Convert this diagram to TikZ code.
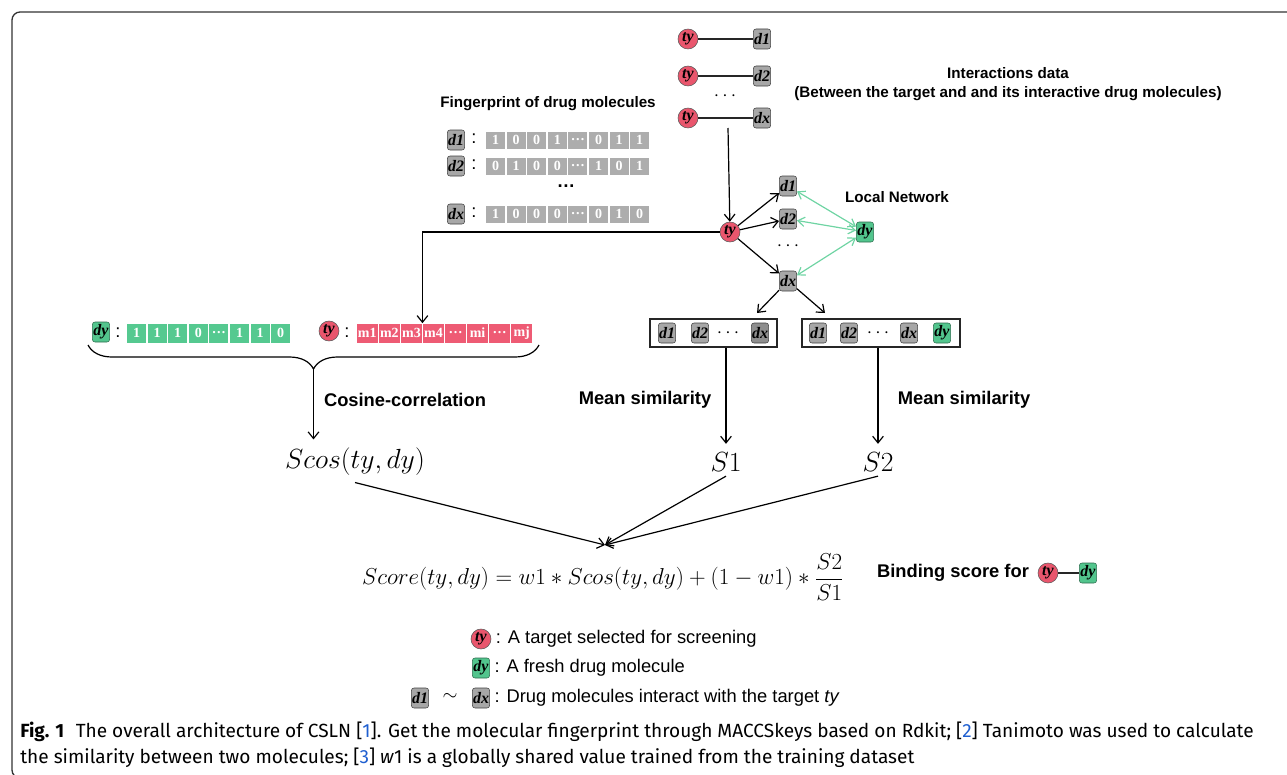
\documentclass[tikz,border=0pt]{standalone}
\usepackage{fontspec}
\setmainfont{Liberation Sans}
\newfontfamily\timesfont{Liberation Serif}
\newfontfamily\capfont{Fira Sans}
\usepackage{xcolor}
\definecolor{tyred}{HTML}{E9566D}
\definecolor{freshgreen}{HTML}{52C58D}
\definecolor{druggray}{HTML}{A7A7A7}
\definecolor{darkgray}{HTML}{8E8E8E}
\definecolor{cellgray}{HTML}{ADADAD}
\definecolor{bitgreen}{HTML}{55C990}
\definecolor{bitred}{HTML}{EE5B74}
\definecolor{netgreen}{HTML}{6FD4A3}
\definecolor{capblue}{HTML}{1F5FD0}
\usepackage{tikz}
\usetikzlibrary{arrows.meta,positioning,decorations.pathreplacing,calc}

\begin{document}
\begin{tikzpicture}[
  x=0.75pt,y=-0.75pt,
  font=\fontsize{13.75}{16}\selectfont,
  tgt/.style={circle,draw=black!65,fill=tyred,minimum size=15pt,inner sep=0pt,
    font=\timesfont\bfseries\itshape\fontsize{12}{13}\selectfont},
  drug/.style={rectangle,rounded corners=2pt,draw=black!75,fill=druggray,
    minimum width=13pt,minimum height=15pt,inner sep=0.5pt,
    font=\timesfont\bfseries\itshape\fontsize{12}{13}\selectfont},
  fresh/.style={drug,fill=freshgreen,draw=freshgreen!55!black},
  bitg/.style={fill=cellgray,minimum width=14.25pt,minimum height=12.75pt,
    inner sep=0pt,text=white,font=\timesfont\bfseries\fontsize{10.5}{11}\selectfont},
  bitgr/.style={bitg,fill=bitgreen,minimum height=14.25pt},
  bitr/.style={bitg,fill=bitred,minimum width=15.4pt,minimum height=14.25pt},
  setbox/.style={draw=black!85,line width=1.1pt,minimum height=21pt,inner sep=0pt},
  lbl/.style={font=\bfseries\fontsize{11.4}{14.25}\selectfont,align=center},
  midlbl/.style={font=\bfseries\fontsize{13.75}{16}\selectfont},
  arr/.style={-{Straight Barb[length=5pt,width=8pt]},line width=0.9pt},
  link/.style={line width=1.1pt,black!85},
  garr/.style={{Straight Barb[length=5pt,width=7pt]}-{Straight Barb[length=5pt,width=7pt]},
    netgreen,line width=0.9pt}
]
  \useasboundingbox (0,0) rectangle (1287,774);
  % Frame
  \draw[black!80,line width=1pt,rounded corners=6pt] (12,12) rectangle (1310,778);
  % Interactions data
  \node[tgt]  (tyI1) at (688,39)  {ty};
  \node[drug] (dI1)  at (762,39)  {d1};
  \node[tgt]  (tyI2) at (688,76)  {ty};
  \node[drug] (dI2)  at (762,76)  {d2};
  \node       (dotI) at (725,96)  {$\cdots$};
  \node[tgt]  (tyI3) at (688,118) {ty};
  \node[drug] (dIx)  at (762,118) {dx};
  \draw[link] (tyI1) -- (dI1);
  \draw[link] (tyI2) -- (dI2);
  \draw[link] (tyI3) -- (dIx);
  \node[lbl] (intlbl) at (1008,84)
    {Interactions data\\(Between the target and and its interactive drug molecules)};
  % Fingerprint of drug molecules
  \node[lbl] (fplbl) at (548,104) {Fingerprint of drug molecules};
  \node[drug] (dF1) at (456,140) {d1};
  \node       (cF1) at (474,139) {:};
  \foreach \b [count=\i] in {1,0,0,1,\ldots,0,1,1}
    \node[bitg] (fpA\i) at ({495.5+(\i-1)*20.6},140) {\b};
  \node[drug] (dF2) at (456,166) {d2};
  \node       (cF2) at (474,165) {:};
  \foreach \b [count=\i] in {0,1,0,0,\ldots,1,0,1}
    \node[bitg] (fpB\i) at ({495.5+(\i-1)*20.6},166) {\b};
  \node (dotF) at (566,186) {\textbf{\ldots}};
  \node[drug] (dFx) at (456,214) {dx};
  \node       (cFx) at (474,213) {:};
  \foreach \b [count=\i] in {1,0,0,0,\ldots,0,1,0}
    \node[bitg] (fpX\i) at ({495.5+(\i-1)*20.6},214) {\b};
  % Local network
  \node[tgt]   (tyL) at (730,232) {ty};
  \node[drug]  (d1L) at (788,186) {d1};
  \node[drug]  (d2L) at (788,219) {d2};
  \node        (dotL) at (788,246) {$\cdots$};
  \node[drug]  (dxL) at (788,281) {dx};
  \node[fresh] (dyL) at (865,232) {dy};
  \node[lbl]   (netlbl) at (897,197) {Local Network};
  \coordinate (intdown) at (728,128);
  \draw[arr] (intdown) -- (tyL);
  \draw[arr] (tyL) -- (d1L);
  \draw[arr] (tyL) -- (d2L);
  \draw[arr] (tyL) -- (dxL);
  \draw[garr] (dyL) -- (d1L);
  \draw[garr] (dyL) -- (d2L);
  \draw[garr] (dyL) -- (dxL);
  % Vectors of dy and ty
  \node[fresh] (dyV) at (101,332) {dy};
  \node        (cdy) at (118,333) {:};
  \foreach \b [count=\i] in {1,1,1,0,\ldots,1,1,0}
    \node[bitgr] (vdy\i) at ({136.5+(\i-1)*20.6},333) {\b};
  \node[tgt]   (tyV) at (329,331) {ty};
  \node        (cty) at (347,333) {:};
  \foreach \b [count=\i] in {m1,m2,m3,m4,\ldots,mi,\ldots,mj}
    \node[bitr] (vty\i) at ({367.3+(\i-1)*22.06},333) {\b};
  \draw[arr] (tyL.west) -| ($(vty3.north east)!0.5!(vty4.north west)$);
  \draw[line width=0.9pt,decorate,decoration={brace,mirror,amplitude=18pt}]
    (88,345) -- (539,345);
  \coordinate (brtip) at (313.5,369);
  % Drug sets
  \node[setbox,minimum width=95.25pt] (setA) at (713.5,333) {};
  \node[drug] (d1A) at (667,333) {d1};
  \node[drug] (d2A) at (700,333) {d2};
  \node       (dotA) at (728,333) {$\cdots$};
  \node[drug,fill=darkgray] (dxA) at (760,333) {dx};
  \node[setbox,minimum width=118.5pt] (setB) at (881,333) {};
  \node[drug]  (d1B) at (818,333) {d1};
  \node[drug]  (d2B) at (849,333) {d2};
  \node        (dotB) at (878,333) {$\cdots$};
  \node[drug]  (dxB) at (909,333) {dx};
  \node[fresh] (dyB) at (942,333) {dy};
  \coordinate (toA) at (757,313);
  \coordinate (toB) at (825,313);
  \draw[arr] (dxL) -- (toA);
  \draw[arr] (dxL) -- (toB);
  % Similarities
  \node[midlbl] (coslbl) at (405,400) {Cosine-correlation};
  \node[midlbl] (m1lbl)  at (645,400) {Mean similarity};
  \node[midlbl] (m2lbl)  at (964,400) {Mean similarity};
  \node[font=\fontsize{21}{24}\selectfont] (scos) at (355,462) {$Scos(ty,dy)$};
  \node[font=\fontsize{21}{24}\selectfont] (s1)   at (726,462) {$S1$};
  \node[font=\fontsize{21}{24}\selectfont] (s2)   at (878,462) {$S2$};
  \draw[arr,shorten >=3pt] (brtip) -- (brtip |- scos.north);
  \draw[arr,shorten >=3pt] (s1 |- setA.south) -- (s1.north);
  \draw[arr,shorten >=3pt] (s2 |- setB.south) -- (s2.north);
  % Binding score
  \node[font=\fontsize{16}{19}\selectfont] (score) at (603,577)
    {$\displaystyle Score(ty,dy)=w1*Scos(ty,dy)+(1-w1)*\frac{S2}{S1}$};
  \coordinate (meet) at (605,545);
  \draw[arr] (scos.south) ++(0,2) -- (meet);
  \draw[arr] (s1.south) -- (meet);
  \draw[arr] (s2.south) -- (meet);
  \node[midlbl] (bindlbl) at (953,573) {Binding score for};
  \node[tgt]   (tyS) at (1048,573) {ty};
  \node[fresh] (dyS) at (1088,573) {dy};
  \draw[link] (tyS) -- (dyS);
  % Legend
  \node[tgt]   (legT) at (481,639) {ty};
  \node[right=0pt of legT] (legTt) {: A target selected for screening};
  \node[fresh] (legY) at (481,668) {dy};
  \node[right=0pt of legY] (legYt) {: A fresh drug molecule};
  \node[drug]  (legD1) at (420,698) {d1};
  \node        (legTl) at (450,697) {$\sim$};
  \node[drug]  (legDx) at (481,698) {dx};
  \node[right=0pt of legDx] (legDt) {: Drug molecules interact with the target \textit{ty}};
  % Caption
  \node[anchor=base west,inner sep=0pt,font=\capfont\fontsize{14.3}{17}\selectfont] (cap1) at (20,737)
    {\textbf{Fig. 1}\hspace{0.6em}The overall architecture of CSLN [\textcolor{capblue}{1}]. Get the molecular fingerprint through MACCSkeys based on Rdkit; [\textcolor{capblue}{2}] Tanimoto was used to calculate};
  \node[anchor=base west,inner sep=0pt,font=\capfont\fontsize{14.3}{17}\selectfont] (cap2) at (20,763)
    {the similarity between two molecules; [\textcolor{capblue}{3}] \textit{w}1 is a globally shared value trained from the training dataset};
\end{tikzpicture}
\end{document}
